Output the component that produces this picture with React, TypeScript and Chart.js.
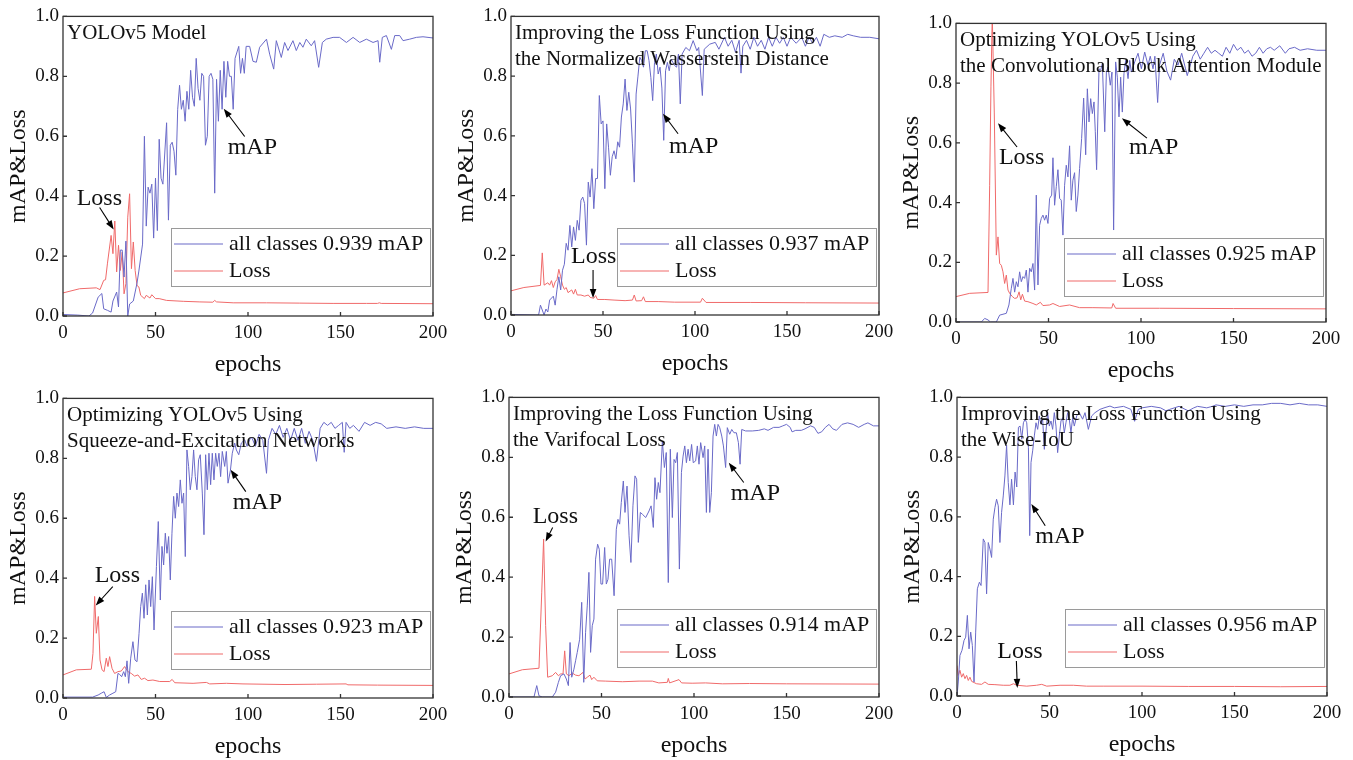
import { useEffect, useRef } from "react";
import { Chart, registerables } from "chart.js";

Chart.register(...registerables);

type Pt = [number, number];

const epochTicks = [0, 50, 100, 150, 200];
const valueTicks = [0, 0.2, 0.4, 0.6, 0.8, 1.0];

// ---------- Panel 1: YOLOv5 Model ----------
const yolov5Map: Pt[] = [
  [0, 0.005], [8, 0.003], [14, 0], [16, 0.01], [19, 0.063], [21, 0.075], [22, 0.024], [24, 0.019], [26, 0.013],
  [27, 0.05], [29, 0.08], [30, 0.03], [31, 0.22], [32, 0.22], [33, 0.13], [34, 0.25], [35, 0], [36, 0.04],
  [38, 0.05], [40, 0.11], [41, 0.15], [43, 0.24], [44, 0.6], [45, 0.3], [46, 0.43], [47, 0.41], [48, 0.44],
  [49, 0.26], [50, 0.46], [51, 0.285], [52, 0.59], [53, 0.46], [54, 0.44], [56, 0.645], [57, 0.32], [58, 0.57],
  [59, 0.58], [60, 0.55], [61, 0.47], [62, 0.69], [63, 0.77], [64, 0.69], [65, 0.72], [66, 0.65], [67, 0.75],
  [68, 0.69], [69, 0.82], [70, 0.73], [71, 0.7], [72, 0.86], [73, 0.76], [74, 0.72], [75, 0.81], [76, 0.8],
  [77, 0.57], [78, 0.6], [79, 0.8], [80, 0.81], [81, 0.79], [82, 0.41], [83, 0.79], [84, 0.65], [85, 0.82],
  [86, 0.69], [87, 0.85], [88, 0.73], [89, 0.85], [90, 0.8], [91, 0.8], [92, 0.69], [93, 0.86], [95, 0.9],
  [96, 0.81], [97, 0.86], [98, 0.81], [99, 0.9], [100.9, 0.9], [102.7, 0.85], [104.5, 0.847], [106.3, 0.897],
  [110, 0.924], [111.7, 0.874], [113.9, 0.824], [115.3, 0.919], [118, 0.863], [119.8, 0.913], [121.6, 0.886],
  [124.3, 0.919], [126.1, 0.886], [128, 0.913], [129.7, 0.897], [131.5, 0.924], [134.2, 0.902], [136, 0.919],
  [138.2, 0.83], [140.2, 0.913], [142.3, 0.924], [146, 0.93], [149.5, 0.93], [153.2, 0.913], [156.8, 0.93],
  [160.4, 0.913], [164, 0.924], [167.6, 0.913], [170.3, 0.919], [171.2, 0.847], [172.6, 0.93], [174.8, 0.936],
  [177.5, 0.89], [179.3, 0.936], [182, 0.936], [183.8, 0.919], [187.4, 0.924], [191, 0.93], [194.6, 0.932],
  [200, 0.928],
];
const yolov5Loss: Pt[] = [
  [0, 0.077], [9, 0.091], [18, 0.094], [20, 0.088], [22, 0.119], [23, 0.121], [24, 0.174], [26, 0.269],
  [27, 0.208], [28, 0.317], [29, 0.147], [30, 0.236], [31, 0.152], [32, 0.213], [33, 0.074], [34, 0.108],
  [35, 0.33], [36, 0.408], [37, 0.158], [38, 0.247], [39, 0.152], [40, 0.102], [41, 0.097], [42, 0.069],
  [44, 0.058], [45, 0.069], [47, 0.06], [48, 0.071], [50, 0.058], [52, 0.058], [56, 0.052], [65, 0.049],
  [74, 0.047], [81, 0.046], [82, 0.052], [83, 0.047], [92, 0.044], [110, 0.044], [128, 0.043], [146, 0.042],
  [164, 0.042], [170, 0.042], [171, 0.044], [172, 0.042], [200, 0.041],
];

// ---------- Panel 2: Normalized Wasserstein Distance ----------
const nwdMap: Pt[] = [
  [0, 0.002], [15, 0], [16, 0.033], [18, 0], [19, 0.02], [20, 0.01], [21, 0.05], [23, 0.063], [24, 0.033],
  [25, 0.086], [26, 0.128], [27, 0.084], [28, 0.15], [29, 0.17], [30, 0.24], [31, 0.217], [32, 0.3],
  [33, 0.228], [34, 0.295], [35, 0.25], [36, 0.317], [37, 0.284], [38, 0.384], [39, 0.395], [40, 0.373],
  [41, 0.234], [42, 0.445], [43, 0.395], [44, 0.49], [45, 0.356], [46, 0.457], [47, 0.457], [48, 0.735],
  [49, 0.64], [50, 0.65], [51, 0.423], [52, 0.64], [53, 0.562], [54, 0.468], [55, 0.53], [56, 0.55],
  [57, 0.523], [58, 0.58], [59, 0.562], [60, 0.663], [61, 0.707], [62, 0.79], [63, 0.685], [64, 0.746],
  [65, 0.69], [66, 0.573], [67, 0.445], [68, 0.74], [69, 0.8], [70, 0.863], [71, 0.852], [72, 0.83],
  [73, 0.885], [74, 0.885], [75, 0.852], [76, 0.796], [77, 0.718], [78, 0.846], [79, 0.874], [80, 0.807],
  [81, 0.83], [82, 0.76], [83, 0.585], [84, 0.818], [85, 0.846], [86, 0.818], [87, 0.857], [88, 0.846],
  [89, 0.835], [90, 0.83], [91, 0.874], [92, 0.707], [93, 0.874], [95, 0.896], [97, 0.885], [99, 0.919],
  [101, 0.885], [102, 0.896], [104, 0.735], [105, 0.89], [108, 0.907], [111, 0.913], [113, 0.89], [116, 0.93],
  [118, 0.9], [120, 0.92], [122, 0.88], [124, 0.92], [125, 0.81], [126, 0.9], [128, 0.92], [130, 0.89],
  [132, 0.93], [134, 0.9], [136, 0.92], [138, 0.89], [140, 0.93], [142, 0.9], [144, 0.93], [146, 0.91],
  [148, 0.93], [150, 0.9], [152, 0.93], [155, 0.91], [158, 0.93], [160, 0.9], [162, 0.93], [164, 0.91],
  [166, 0.93], [168, 0.9], [170, 0.94], [173, 0.93], [176, 0.935], [180, 0.93], [183, 0.94], [186, 0.935],
  [190, 0.93], [195, 0.93], [200, 0.925],
];
const nwdLoss: Pt[] = [
  [0, 0.081], [7, 0.092], [16, 0.099], [17, 0.208], [18, 0.1], [20, 0.108], [21, 0.1], [22, 0.115],
  [23, 0.092], [24, 0.111], [25, 0.119], [26, 0.153], [27, 0.128], [28, 0.1], [29, 0.086], [30, 0.092],
  [31, 0.075], [33, 0.084], [34, 0.07], [35, 0.086], [36, 0.067], [38, 0.067], [40, 0.063], [42, 0.067],
  [43, 0.059], [45, 0.056], [46, 0.065], [47, 0.052], [51, 0.052], [56, 0.05], [62, 0.048], [66, 0.05],
  [67, 0.067], [68, 0.047], [71, 0.048], [72, 0.061], [73, 0.045], [80, 0.045], [89, 0.043], [103, 0.043],
  [104, 0.056], [106, 0.042], [130, 0.042], [160, 0.041], [200, 0.04],
];

// ---------- Panel 3: Convolutional Block Attention Module ----------
const cbamMap: Pt[] = [
  [0, 0], [13.7, 0], [15.5, 0.012], [17.3, 0.007], [18.6, 0], [21.8, 0], [23.6, 0.023], [27.2, 0.029],
  [28.6, 0.057], [29.9, 0.113], [30.8, 0.146], [31.7, 0.1], [32.6, 0.135], [33.5, 0.118], [34.4, 0.168],
  [35.3, 0.135], [36.2, 0.152], [37.1, 0.146], [38, 0.174], [38.9, 0.1], [39.8, 0.18], [40.7, 0.168],
  [41.6, 0.196], [42.5, 0.107], [43.4, 0.425], [44.3, 0.124], [45.2, 0.324], [46.1, 0.347], [47, 0.358],
  [47.9, 0.341], [48.8, 0.358], [49.7, 0.33], [50.6, 0.414], [51.7, 0.425], [52.4, 0.55], [53.3, 0.391],
  [54.2, 0.453], [55.1, 0.51], [56, 0.414], [56.9, 0.408], [57.8, 0.291], [58.7, 0.458], [59.6, 0.525],
  [60.5, 0.486], [61.4, 0.59], [62.3, 0.408], [63.2, 0.475], [64.1, 0.5], [65, 0.37], [65.9, 0.425],
  [66.8, 0.514], [67.9, 0.614], [69, 0.75], [70.1, 0.56], [71, 0.781], [71.9, 0.67], [72.8, 0.748],
  [73.7, 0.698], [74.6, 0.737], [75.3, 0.637], [76, 0.51], [77.3, 0.848], [78.2, 0.843], [79.1, 0.865],
  [80.4, 0.637], [81.3, 0.837], [82.2, 0.854], [83.4, 0.793], [84.3, 0.837], [85.2, 0.308], [86.3, 0.871],
  [87.2, 0.82], [88.1, 0.687], [89, 0.82], [89.9, 0.703], [90.8, 0.832], [91.7, 0.876], [93, 0.815],
  [93.9, 0.876], [94.8, 0.837], [96.6, 0.871], [98.4, 0.9], [100.2, 0.848], [102, 0.904], [103.8, 0.86],
  [105, 0.89], [106.5, 0.848], [107.5, 0.89], [109, 0.735], [110, 0.86], [112, 0.9], [114, 0.84], [116, 0.81],
  [118, 0.88], [120, 0.86], [122, 0.9], [124, 0.85], [125, 0.825], [128, 0.89], [130, 0.91], [132, 0.88],
  [134, 0.9], [136, 0.92], [138, 0.9], [140, 0.91], [142, 0.9], [144, 0.89], [146, 0.92], [148, 0.9],
  [150, 0.93], [152, 0.91], [154, 0.92], [156, 0.9], [158, 0.91], [160, 0.89], [162, 0.9], [164, 0.92],
  [166, 0.9], [168, 0.915], [170, 0.92], [172, 0.91], [175, 0.925], [178, 0.9], [180, 0.915], [183, 0.92],
  [186, 0.91], [190, 0.915], [195, 0.91], [200, 0.91],
];
const cbamLoss: Pt[] = [
  [0, 0.085], [7.4, 0.096], [17.3, 0.099], [18.2, 0.458], [18.9, 0.79], [19.6, 1.03], [20.7, 0.7],
  [21.8, 0.224], [22.7, 0.285], [23.6, 0.196], [24.5, 0.19], [25.4, 0.168], [26.3, 0.129], [27.2, 0.157],
  [28.1, 0.107], [29, 0.096], [30.5, 0.085], [31.7, 0.079], [33, 0.081], [34.1, 0.101], [35, 0.074],
  [35.9, 0.093], [37.1, 0.07], [38.9, 0.068], [41.6, 0.062], [43.4, 0.057], [45.6, 0.066], [47, 0.055],
  [50.6, 0.057], [52.4, 0.062], [56, 0.052], [61.4, 0.057], [66.8, 0.048], [74, 0.048], [84.2, 0.047],
  [84.9, 0.062], [86.3, 0.046], [110, 0.046], [150, 0.045], [200, 0.044],
];

// ---------- Panel 4: Squeeze-and-Excitation ----------
const seMap: Pt[] = [
  [0, 0.003], [16, 0.003], [19, 0.01], [20.7, 0.016], [22.2, 0.021], [23.4, 0.002], [25.2, 0.01], [27, 0.016],
  [28.5, 0.021], [29.7, 0.082], [30.6, 0.079], [31.7, 0.071], [32.8, 0.088], [33.7, 0.071], [34.6, 0.124],
  [35.5, 0.049], [36.6, 0.133], [37.8, 0.188], [38.9, 0.127], [40, 0.121], [41.1, 0.216], [42, 0.305],
  [42.9, 0.35], [43.8, 0.266], [44.7, 0.378], [45.6, 0.277], [46.5, 0.394], [47.4, 0.305], [48.3, 0.405],
  [49.2, 0.227], [50.5, 0.439], [51.5, 0.589], [52.6, 0.327], [53.5, 0.506], [54.4, 0.444], [55.3, 0.55],
  [56.2, 0.483], [57.1, 0.539], [58, 0.394], [58.9, 0.55], [59.8, 0.673], [60.7, 0.6], [61.6, 0.684],
  [62.5, 0.639], [63.4, 0.728], [64.3, 0.65], [65.2, 0.684], [66.1, 0.472], [67, 0.828], [67.9, 0.773],
  [68.8, 0.695], [69.7, 0.739], [70.6, 0.828], [71.5, 0.739], [72.4, 0.695], [73.3, 0.795], [74.2, 0.812],
  [75.3, 0.684], [76.2, 0.545], [77.1, 0.812], [78, 0.695], [78.9, 0.817], [79.8, 0.712], [80.7, 0.817],
  [81.6, 0.728], [82.5, 0.817], [83.4, 0.773], [84.3, 0.817], [85.2, 0.739], [86.1, 0.823], [87.4, 0.773],
  [88.3, 0.823], [89.2, 0.717], [90.5, 0.76], [91.5, 0.817], [92.8, 0.851], [93.7, 0.828], [95, 0.812],
  [96.4, 0.851], [98.2, 0.862], [99.5, 0.84], [100.9, 0.862], [102, 0.87], [104, 0.84], [106, 0.88],
  [108, 0.86], [110, 0.75], [111, 0.86], [113, 0.9], [115, 0.88], [117, 0.91], [119, 0.87], [121, 0.9],
  [123, 0.86], [125, 0.9], [127, 0.86], [129, 0.9], [131, 0.85], [133, 0.89], [135, 0.86], [137, 0.79],
  [139, 0.9], [141, 0.92], [143, 0.91], [145, 0.92], [147, 0.9], [149, 0.91], [151, 0.92], [152, 0.82],
  [153, 0.92], [155, 0.9], [157, 0.91], [160, 0.89], [163, 0.92], [166, 0.91], [169, 0.92], [172, 0.915],
  [175, 0.9], [180, 0.905], [185, 0.9], [190, 0.905], [195, 0.9], [200, 0.9],
];
const seLoss: Pt[] = [
  [0, 0.077], [7.2, 0.094], [15.3, 0.096], [16.2, 0.149], [17.1, 0.339], [18, 0.216], [19.1, 0.272],
  [20, 0.127], [21.1, 0.094], [22.2, 0.088], [23.4, 0.133], [24.3, 0.105], [25.2, 0.138], [26.5, 0.099],
  [27.9, 0.082], [29.7, 0.088], [31.5, 0.09], [33.3, 0.105], [35.1, 0.088], [36.9, 0.082], [38.7, 0.073],
  [40.5, 0.077], [42.3, 0.062], [44.1, 0.066], [45.9, 0.058], [48.6, 0.06], [52.3, 0.055], [57.7, 0.055],
  [59, 0.062], [60.4, 0.051], [70.3, 0.049], [77.5, 0.052], [79.3, 0.047], [88.3, 0.049], [97.3, 0.047],
  [120, 0.045], [137, 0.046], [153, 0.047], [154, 0.044], [170, 0.043], [200, 0.042],
];

// ---------- Panel 5: Varifocal Loss ----------
const vfMap: Pt[] = [
  [0, 0], [13.5, 0], [15, 0.038], [16.2, 0.004], [18, 0], [23.4, 0], [25.2, 0.016], [26.7, 0.049],
  [27.9, 0.071], [29.7, 0.077], [31, 0.06], [32.1, 0.038], [33, 0.182], [33.9, 0.066], [35.1, 0.093],
  [36, 0.121], [36.9, 0.149], [38.2, 0.193], [39.3, 0.316], [40.4, 0.049], [41.4, 0.216], [42.3, 0.304],
  [43.2, 0.416], [44.1, 0.149], [45, 0.238], [45.9, 0.26], [46.8, 0.46], [47.9, 0.51], [48.8, 0.493],
  [49.7, 0.377], [50.6, 0.377], [51.7, 0.499], [52.6, 0.377], [53.5, 0.393], [54.4, 0.46], [55.5, 0.46],
  [56.8, 0.338], [58, 0.56], [58.9, 0.593], [59.8, 0.577], [60.7, 0.649], [61.8, 0.721], [62.7, 0.616],
  [63.8, 0.704], [64.9, 0.538], [65.9, 0.449], [67, 0.638], [68.1, 0.738], [69, 0.727], [69.9, 0.516],
  [71, 0.616], [72.1, 0.61], [73.9, 0.599], [75.7, 0.621], [76.8, 0.638], [78, 0.566], [78.9, 0.732],
  [79.8, 0.66], [80.7, 0.716], [81.6, 0.682], [82.9, 0.854], [84, 0.766], [85, 0.816], [86.1, 0.382],
  [87.2, 0.827], [88.3, 0.599], [89.2, 0.793], [90.1, 0.782], [91, 0.816], [92.1, 0.427], [93.2, 0.749],
  [94.1, 0.804], [95, 0.838], [95.9, 0.782], [96.8, 0.827], [97.7, 0.788], [98.7, 0.843], [99.6, 0.782],
  [100.9, 0.788], [101.8, 0.838], [102.7, 0.777], [103.6, 0.849], [104.9, 0.799], [105.8, 0.838],
  [106.7, 0.616], [107.6, 0.827], [108.5, 0.616], [109.4, 0.682], [110.3, 0.871], [111.2, 0.91],
  [112.1, 0.871], [113, 0.91], [113.9, 0.899], [115, 0.871], [115.9, 0.838], [117.1, 0.766], [118, 0.899],
  [119.3, 0.877], [120.4, 0.893], [121.6, 0.882], [122.9, 0.882], [124, 0.849], [124.9, 0.777],
  [125.8, 0.893], [127.9, 0.888], [131.5, 0.888], [135, 0.89], [138, 0.895], [140, 0.89], [143, 0.9],
  [146, 0.9], [148, 0.905], [150, 0.91], [152, 0.9], [153, 0.885], [155, 0.89], [158, 0.89], [160, 0.895],
  [163, 0.905], [165, 0.9], [167, 0.88], [169, 0.885], [171, 0.9], [173, 0.91], [175, 0.895], [177, 0.89],
  [180, 0.91], [183, 0.915], [186, 0.91], [189, 0.9], [192, 0.91], [194, 0.915], [197, 0.905], [200, 0.905],
];
const vfLoss: Pt[] = [
  [0, 0.077], [7.2, 0.091], [16.2, 0.096], [17.7, 0.35], [18.7, 0.527], [19.8, 0.238], [20.9, 0.066],
  [23.4, 0.071], [25.2, 0.082], [26.7, 0.071], [27.9, 0.077], [29.2, 0.077], [30.1, 0.154], [31, 0.077],
  [32.4, 0.071], [34.2, 0.08], [36, 0.073], [37.8, 0.071], [40, 0.082], [41.1, 0.06], [42.3, 0.066],
  [43.8, 0.073], [44.7, 0.058], [45.9, 0.066], [47.7, 0.054], [52.3, 0.053], [61.3, 0.051], [70.3, 0.053],
  [77.5, 0.053], [81, 0.047], [85.6, 0.049], [86.1, 0.062], [86.8, 0.047], [91.9, 0.058], [93.3, 0.047],
  [99, 0.046], [106.3, 0.047], [115.3, 0.044], [130, 0.045], [150, 0.044], [200, 0.043],
];

// ---------- Panel 6: Wise-IoU ----------
const wiouMap: Pt[] = [
  [0, 0], [0.7, 0.047], [1.6, 0.136], [2.7, 0.153], [3.8, 0.186], [4.7, 0.197], [5.6, 0.27], [6.5, 0.158],
  [7.4, 0.214], [8.3, 0.169], [9.2, 0.047], [10.1, 0.214], [11, 0.359], [12.1, 0.381], [13, 0.37],
  [14.2, 0.526], [15.1, 0.514], [16, 0.342], [16.9, 0.514], [17.8, 0.492], [18.7, 0.464], [19.6, 0.592],
  [20.5, 0.631], [21.4, 0.659], [22.3, 0.637], [23.2, 0.514], [24.1, 0.615], [25, 0.67], [25.9, 0.737],
  [26.8, 0.84], [27.7, 0.715], [28.6, 0.64], [29.5, 0.726], [30.5, 0.64], [31.4, 0.75], [32.3, 0.7],
  [33.2, 0.9], [34.1, 0.904], [35, 0.86], [35.9, 0.915], [36.8, 0.927], [37.7, 0.915], [38.6, 0.832],
  [39.3, 0.537], [40, 0.782], [40.9, 0.821], [41.8, 0.871], [42.7, 0.915], [43.6, 0.893], [44.5, 0.938],
  [45.4, 0.91], [46.3, 0.927], [47.2, 0.826], [48.1, 0.888], [49, 0.949], [49.9, 0.904], [50.8, 0.921],
  [51.7, 0.893], [52.6, 0.949], [53.5, 0.904], [54.4, 0.815], [55.3, 0.871], [56.2, 0.921], [57.1, 0.932],
  [58, 0.882], [58.9, 0.915], [59.8, 0.949], [60.7, 0.927], [61.6, 0.882], [62.5, 0.932], [63.4, 0.904],
  [64.7, 0.938], [66.1, 0.949], [67.9, 0.927], [69.2, 0.949], [71, 0.893], [72.8, 0.938], [74.6, 0.949],
  [77.3, 0.96], [80, 0.966], [82.7, 0.971], [85, 0.965], [90, 0.97], [94, 0.96], [96, 0.92], [98, 0.96],
  [100, 0.965], [105, 0.97], [110, 0.965], [113, 0.955], [115, 0.96], [120, 0.97], [125, 0.955], [128, 0.965],
  [130, 0.97], [135, 0.965], [138, 0.97], [140, 0.975], [145, 0.97], [150, 0.975], [155, 0.97], [160, 0.975],
  [165, 0.975], [170, 0.98], [175, 0.98], [180, 0.975], [185, 0.98], [190, 0.975], [195, 0.975], [200, 0.97],
];
const wiouLoss: Pt[] = [
  [0, 0.102], [0.7, 0.069], [1.6, 0.086], [2.5, 0.063], [3.4, 0.075], [4.3, 0.058], [5.2, 0.069],
  [6.1, 0.052], [7, 0.063], [7.9, 0.049], [9.2, 0.045], [10.6, 0.041], [13.3, 0.039], [15.1, 0.047],
  [16.9, 0.039], [20.5, 0.038], [25, 0.036], [28.6, 0.036], [30.5, 0.041], [32.3, 0.036], [37.7, 0.033],
  [43, 0.036], [45.8, 0.039], [48.5, 0.033], [55.7, 0.036], [62.9, 0.036], [70, 0.033], [79, 0.033],
  [100, 0.033], [125, 0.032], [150, 0.032], [175, 0.031], [200, 0.032],
];

// ---------- styling ----------
const FONT = '"Liberation Serif", "Times New Roman", serif';
const MAP_COLOR = "#6a6ac8";
const LOSS_COLOR = "#f06a6a";
const FRAME_COLOR = "#333333";
const TEXT_COLOR = "#111111";

interface Note {
  label: string;
  text: [number, number];
  from: [number, number];
  to: [number, number];
}

interface PanelSpec {
  key: string;
  titleLines: string[];
  mapLabel: string;
  map: Pt[];
  loss: Pt[];
  area: { l: number; t: number; r: number; b: number };
  legendBottomGap: number;
  notes: Note[];
}

const panels: PanelSpec[] = [
  {
    key: "p1",
    titleLines: ["YOLOv5 Model"],
    mapLabel: "all classes 0.939 mAP",
    map: yolov5Map,
    loss: yolov5Loss,
    area: { l: 63, t: 16, r: 433, b: 316 },
    legendBottomGap: 30,
    notes: [
      { label: "mAP", text: [89, 0.542], from: [98.2, 0.599], to: [86.9, 0.692] },
      { label: "Loss", text: [7.4, 0.372], from: [19.8, 0.362], to: [27.4, 0.289] },
    ],
  },
  {
    key: "p2",
    titleLines: ["Improving the Loss Function Using", "the Normalized Wasserstein Distance"],
    mapLabel: "all classes 0.937 mAP",
    map: nwdMap,
    loss: nwdLoss,
    area: { l: 511, t: 16, r: 879, b: 315 },
    legendBottomGap: 29,
    notes: [
      { label: "mAP", text: [85.9, 0.541], from: [90.8, 0.607], to: [82.6, 0.674] },
      { label: "Loss", text: [32.6, 0.174], from: [44.6, 0.151], to: [44.6, 0.057] },
    ],
  },
  {
    key: "p3",
    titleLines: ["Optimizing YOLOv5 Using", "the Convolutional Block Attention Module"],
    mapLabel: "all classes 0.925 mAP",
    map: cbamMap,
    loss: cbamLoss,
    area: { l: 956, t: 23, r: 1326, b: 322 },
    legendBottomGap: 26,
    notes: [
      { label: "mAP", text: [93.5, 0.562], from: [103.2, 0.616], to: [89.7, 0.682] },
      { label: "Loss", text: [23.2, 0.529], from: [33, 0.586], to: [22.7, 0.666] },
    ],
  },
  {
    key: "p4",
    titleLines: ["Optimizing YOLOv5 Using", "Squeeze-and-Excitation Networks"],
    mapLabel: "all classes 0.923 mAP",
    map: seMap,
    loss: seLoss,
    area: { l: 63, t: 398, r: 433, b: 698 },
    legendBottomGap: 29.5,
    notes: [
      { label: "mAP", text: [91.7, 0.632], from: [98.8, 0.689], to: [90.6, 0.762] },
      { label: "Loss", text: [17.1, 0.386], from: [26.9, 0.372], to: [17.7, 0.309] },
    ],
  },
  {
    key: "p5",
    titleLines: ["Improving the Loss Function Using", "the Varifocal Loss"],
    mapLabel: "all classes 0.914 mAP",
    map: vfMap,
    loss: vfLoss,
    area: { l: 509, t: 397, r: 879, b: 697 },
    legendBottomGap: 30.5,
    notes: [
      { label: "mAP", text: [119.8, 0.656], from: [126.9, 0.716], to: [118.8, 0.782] },
      { label: "Loss", text: [12.8, 0.582], from: [23.6, 0.566], to: [19.8, 0.519] },
    ],
  },
  {
    key: "p6",
    titleLines: ["Improving the Loss Function Using", "the Wise-IoU"],
    mapLabel: "all classes 0.956 mAP",
    map: wiouMap,
    loss: wiouLoss,
    area: { l: 957, t: 397, r: 1327, b: 696 },
    legendBottomGap: 28.7,
    notes: [
      { label: "mAP", text: [42.3, 0.513], from: [47.7, 0.57], to: [40.2, 0.643] },
      { label: "Loss", text: [21.8, 0.127], from: [32.1, 0.117], to: [32.6, 0.027] },
    ],
  },
];

const AXIS_W = 60;
const AXIS_H = 60;
const PAD_T = 15;
const PAD_R = 24;

function drawArrow(ctx: CanvasRenderingContext2D, x1: number, y1: number, x2: number, y2: number) {
  const ang = Math.atan2(y2 - y1, x2 - x1);
  const len = 9;
  const half = 3.3;
  const c = Math.cos(ang);
  const s = Math.sin(ang);
  ctx.beginPath();
  ctx.moveTo(x1, y1);
  ctx.lineTo(x2 - c * len * 0.7, y2 - s * len * 0.7);
  ctx.stroke();
  ctx.beginPath();
  ctx.moveTo(x2, y2);
  ctx.lineTo(x2 - len * c + half * s, y2 - len * s - half * c);
  ctx.lineTo(x2 - len * c - half * s, y2 - len * s + half * c);
  ctx.closePath();
  ctx.fill();
}

function Panel({ spec }: { spec: PanelSpec }) {
  const ref = useRef<HTMLCanvasElement>(null);
  const { l, t, r, b } = spec.area;
  const W = r - l + AXIS_W + PAD_R;
  const H = b - t + PAD_T + AXIS_H;

  useEffect(() => {
    const canvas = ref.current;
    if (!canvas) return;

    const overlay = {
      id: "overlay" + spec.key,
      afterDatasetsDraw(chart: any) {
        const { ctx, chartArea: a, scales } = chart;
        const xs = scales.x;
        const ys = scales.y;
        ctx.save();
        // frame
        ctx.strokeStyle = FRAME_COLOR;
        ctx.lineWidth = 1.3;
        ctx.strokeRect(a.left, a.top, a.right - a.left, a.bottom - a.top);
        // inward ticks
        ctx.beginPath();
        for (const v of valueTicks) {
          const y = ys.getPixelForValue(v);
          ctx.moveTo(a.left, y);
          ctx.lineTo(a.left + 4, y);
        }
        for (const v of epochTicks) {
          const x = xs.getPixelForValue(v);
          ctx.moveTo(x, a.bottom);
          ctx.lineTo(x, a.bottom - 4);
        }
        ctx.stroke();

        // panel caption
        ctx.fillStyle = TEXT_COLOR;
        ctx.textAlign = "left";
        ctx.textBaseline = "alphabetic";
        ctx.font = `21px ${FONT}`;
        spec.titleLines.forEach((line, i) => {
          ctx.fillText(line, a.left + 4, a.top + 23 + i * 25.5);
        });

        // notes with arrows
        ctx.font = `24px ${FONT}`;
        ctx.strokeStyle = "#000";
        ctx.lineWidth = 1.1;
        for (const n of spec.notes) {
          ctx.fillStyle = TEXT_COLOR;
          ctx.fillText(n.label, xs.getPixelForValue(n.text[0]), ys.getPixelForValue(n.text[1]));
          ctx.fillStyle = "#000";
          drawArrow(
            ctx,
            xs.getPixelForValue(n.from[0]),
            ys.getPixelForValue(n.from[1]),
            xs.getPixelForValue(n.to[0]),
            ys.getPixelForValue(n.to[1])
          );
        }

        // legend box
        const bw = 259;
        const bh = 58;
        const bx = Math.round(a.right - 3 - bw);
        const by = Math.round(a.bottom - spec.legendBottomGap - bh);
        ctx.strokeStyle = "#9a9a9a";
        ctx.lineWidth = 1;
        ctx.strokeRect(bx + 0.5, by + 0.5, bw, bh);
        ctx.font = `22px ${FONT}`;
        ctx.textBaseline = "middle";
        chart.data.datasets.forEach((ds: any, i: number) => {
          const yy = by + 16 + i * 27;
          ctx.strokeStyle = ds.borderColor;
          ctx.lineWidth = 1.2;
          ctx.beginPath();
          ctx.moveTo(bx + 3, yy);
          ctx.lineTo(bx + 52, yy);
          ctx.stroke();
          ctx.fillStyle = TEXT_COLOR;
          ctx.fillText(ds.label, bx + 58, yy);
        });
        ctx.restore();
      },
    };

    const chart = new Chart(canvas, {
      type: "line",
      data: {
        datasets: [
          {
            label: spec.mapLabel,
            data: spec.map.map(([x, y]) => ({ x, y })),
            borderColor: MAP_COLOR,
            borderWidth: 1,
            pointRadius: 0,
            tension: 0,
            fill: false,
          },
          {
            label: "Loss",
            data: spec.loss.map(([x, y]) => ({ x, y })),
            borderColor: LOSS_COLOR,
            borderWidth: 1,
            pointRadius: 0,
            tension: 0,
            fill: false,
          },
        ],
      },
      options: {
        animation: false,
        responsive: false,
        events: [],
        layout: { padding: { left: 0, top: PAD_T, right: PAD_R, bottom: 0 } },
        plugins: {
          legend: { display: false },
          tooltip: { enabled: false },
        },
        scales: {
          x: {
            type: "linear",
            min: 0,
            max: 200,
            afterBuildTicks: (s: any) => {
              s.ticks = epochTicks.map((value) => ({ value }));
            },
            afterFit: (s: any) => {
              s.height = AXIS_H;
            },
            grid: { display: false, drawTicks: false },
            border: { display: false },
            ticks: {
              autoSkip: false,
              maxRotation: 0,
              padding: 6,
              color: TEXT_COLOR,
              font: { family: FONT, size: 19 },
              callback: (v: any) => String(v),
            },
            title: {
              display: true,
              text: "epochs",
              color: TEXT_COLOR,
              font: { family: FONT, size: 24 },
              padding: { top: 0, bottom: -3 },
            },
          },
          y: {
            type: "linear",
            min: 0,
            max: 1,
            afterBuildTicks: (s: any) => {
              s.ticks = valueTicks.map((value) => ({ value }));
            },
            afterFit: (s: any) => {
              s.width = AXIS_W;
            },
            grid: { display: false, drawTicks: false },
            border: { display: false },
            ticks: {
              padding: 4,
              color: TEXT_COLOR,
              font: { family: FONT, size: 19 },
              callback: (v: any) => Number(v).toFixed(1),
            },
            title: {
              display: true,
              text: "mAP&Loss",
              color: TEXT_COLOR,
              font: { family: FONT, size: 24 },
              padding: { top: 1.5, bottom: 0 },
            },
          },
        },
      },
      plugins: [overlay],
    } as any);

    return () => chart.destroy();
  }, [spec]);

  return (
    <canvas
      ref={ref}
      width={W}
      height={H}
      style={{
        position: "absolute",
        left: l - AXIS_W,
        top: t - PAD_T,
        width: W,
        height: H,
      }}
    />
  );
}

export default function App() {
  return (
    <div
      style={{
        position: "absolute",
        left: 0,
        top: 0,
        width: 1353,
        height: 760,
        overflow: "hidden",
        background: "#ffffff",
      }}
    >
      {panels.map((p) => (
        <Panel key={p.key} spec={p} />
      ))}
    </div>
  );
}
